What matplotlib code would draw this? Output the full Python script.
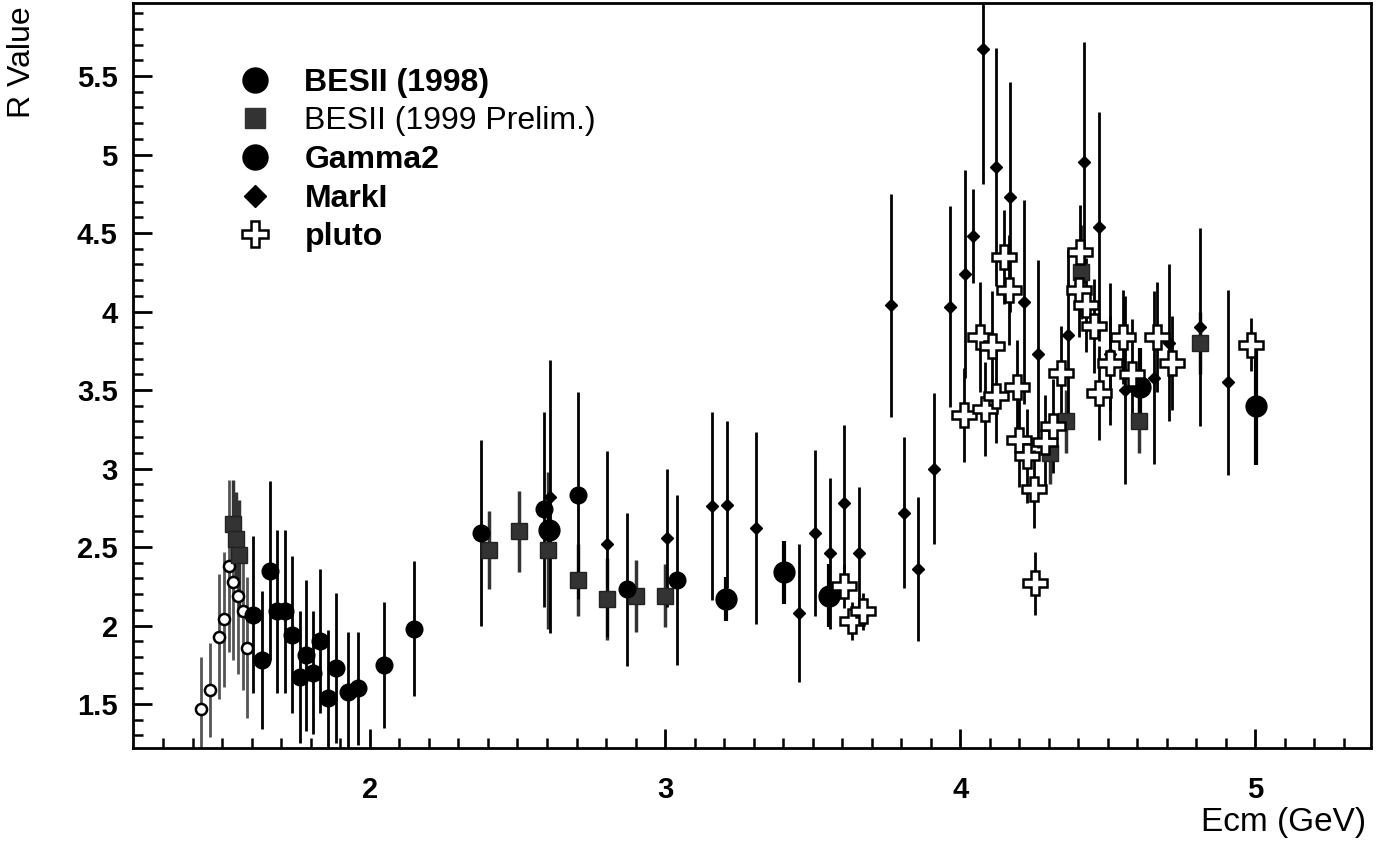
import numpy as np
import matplotlib
matplotlib.use('Agg')
import matplotlib.pyplot as plt
from matplotlib.lines import Line2D

plt.rcParams['font.family'] = ['Liberation Sans', 'DejaVu Sans']

# BESII (1998) - filled circles
bes98_x = [1.604, 1.635, 1.661, 1.684, 1.712, 1.735, 1.763, 1.785, 1.808, 1.83, 1.859, 1.885,
           1.926, 1.96, 2.049, 2.150, 2.375, 2.59, 2.706, 2.87, 3.04]
bes98_y = [2.07, 1.78, 2.35, 2.09, 2.09, 1.94, 1.67, 1.81, 1.70, 1.90, 1.54, 1.73,
           1.58, 1.60, 1.75, 1.98, 2.59, 2.74, 2.83, 2.23, 2.29]
bes98_e = [0.50, 0.44, 0.57, 0.52, 0.52, 0.50, 0.42, 0.48, 0.39, 0.46, 0.43, 0.48,
           0.38, 0.36, 0.40, 0.43, 0.59, 0.62, 0.66, 0.49, 0.54]

# BESII (1999 Prelim.) - squares
bes99_x = [1.535, 1.545, 1.555, 2.405, 2.505, 2.602, 2.706, 2.802, 2.90, 3.0,
           4.305, 4.36, 4.41, 4.605, 4.811]
bes99_y = [2.65, 2.55, 2.45, 2.48, 2.60, 2.48, 2.29, 2.17, 2.19, 2.19,
           3.10, 3.30, 4.25, 3.30, 3.80]
bes99_e = [0.28, 0.30, 0.35, 0.25, 0.26, 0.50, 0.23, 0.26, 0.23, 0.20,
           0.20, 0.20, 0.30, 0.20, 0.20]

# Gamma2 - large filled circles
gam_x = [2.606, 3.206, 3.404, 3.556, 4.61, 5.003]
gam_y = [2.61, 2.17, 2.34, 2.19, 3.52, 3.40]
gam_e = [0.15, 0.14, 0.20, 0.20, 0.25, 0.38]

# MarkI - small diamonds
mk_x = [2.61, 2.804, 3.006, 3.158, 3.209, 3.308, 3.455, 3.508, 3.559, 3.608, 3.658,
        3.765, 3.808, 3.857, 3.912, 3.966, 4.017, 4.045, 4.076, 4.122, 4.169, 4.215,
        4.263, 4.365, 4.418, 4.469, 4.508, 4.559, 4.658, 4.706, 4.811, 4.906]
mk_y = [2.82, 2.52, 2.56, 2.76, 2.77, 2.62, 2.08, 2.59, 2.46, 2.78, 2.46,
        4.04, 2.72, 2.36, 3.00, 4.03, 4.24, 4.48, 5.67, 4.92, 4.73, 4.06,
        3.73, 3.85, 4.95, 4.54, 3.73, 3.50, 3.58, 3.80, 3.90, 3.55]
mk_e = [0.87, 0.59, 0.44, 0.60, 0.53, 0.61, 0.44, 0.53, 0.48, 0.50, 0.42,
        0.71, 0.48, 0.46, 0.48, 0.64, 0.66, 0.30, 0.86, 0.76, 0.73, 0.65,
        0.60, 0.55, 0.77, 0.73, 0.45, 0.60, 0.55, 0.50, 0.63, 0.59]

# pluto - open crosses
pl_x = [3.605, 3.633, 3.67, 4.014, 4.068, 4.085, 4.107, 4.122, 4.149, 4.167, 4.192,
        4.198, 4.228, 4.249, 4.254, 4.288, 4.314, 4.343, 4.401, 4.407, 4.427, 4.455,
        4.471, 4.508, 4.553, 4.582, 4.667, 4.718, 4.985]
pl_y = [2.25, 2.03, 2.09, 3.34, 3.84, 3.38, 3.78, 3.46, 4.35, 4.14, 3.52,
        3.18, 3.08, 2.87, 2.27, 3.17, 3.27, 3.61, 4.14, 4.38, 4.04, 3.91,
        3.48, 3.67, 3.84, 3.60, 3.84, 3.67, 3.79]
pl_e = [0.14, 0.12, 0.12, 0.30, 0.35, 0.30, 0.35, 0.30, 0.30, 0.35, 0.30,
        0.30, 0.30, 0.25, 0.20, 0.30, 0.30, 0.30, 0.30, 0.30, 0.30, 0.30,
        0.30, 0.30, 0.30, 0.35, 0.35, 0.30, 0.17]

# small open circles at low energy (not in legend)
oc_x = [1.429, 1.458, 1.488, 1.505, 1.522, 1.537, 1.552, 1.571, 1.584]
oc_y = [1.47, 1.59, 1.93, 2.04, 2.38, 2.28, 2.19, 2.09, 1.86]
oc_e = [0.33, 0.30, 0.40, 0.43, 0.55, 0.50, 0.50, 0.50, 0.45]

fig = plt.figure(figsize=(13.79, 8.44), dpi=100)
ax = fig.add_axes([0.0964, 0.1137, 0.898, 0.8827])

eb = dict(fmt='none', ecolor='black', elinewidth=2.0, capsize=0)
ax.errorbar(oc_x, oc_y, yerr=oc_e, fmt='none', ecolor='#555555', elinewidth=2.0, capsize=0)
ax.errorbar(bes99_x, bes99_y, yerr=bes99_e, fmt='none', ecolor='#333333', elinewidth=2.5, capsize=0)
ax.errorbar(bes98_x, bes98_y, yerr=bes98_e, **eb)
ax.errorbar(gam_x, gam_y, yerr=gam_e, fmt='none', ecolor='black', elinewidth=3, capsize=0)
ax.errorbar(mk_x, mk_y, yerr=mk_e, **eb)
ax.errorbar(pl_x, pl_y, yerr=pl_e, **eb)

ax.plot(oc_x, oc_y, 'o', ms=8, mfc='white', mec='black', mew=1.8, ls='none')
ax.plot(bes99_x, bes99_y, 's', ms=11, mfc='#333333', mec='#222222', ls='none')
ax.plot(bes98_x, bes98_y, 'o', ms=12, mfc='black', mec='black', ls='none')
ax.plot(gam_x, gam_y, 'o', ms=15, mfc='black', mec='black', ls='none')
ax.plot(mk_x, mk_y, 'D', ms=6, mfc='black', mec='black', ls='none')
ax.plot(pl_x, pl_y, 'P', ms=17, mfc='white', mec='black', mew=1.8, ls='none')

ax.set_xlim(1.197, 5.393)
ax.set_ylim(1.22, 5.965)
ax.set_xticks([2, 3, 4, 5])
ax.set_xticks(np.arange(1.3, 5.35, 0.1), minor=True)
ax.set_yticks([1.5, 2, 2.5, 3, 3.5, 4, 4.5, 5, 5.5])
ax.set_yticklabels(['1.5', '2', '2.5', '3', '3.5', '4', '4.5', '5', '5.5'])
ax.set_yticks(np.arange(1.3, 5.95, 0.1), minor=True)
ax.tick_params(axis='both', which='major', direction='in', length=14, width=2,
               labelsize=21)
ax.tick_params(axis='both', which='minor', direction='in', length=7, width=1.8)
ax.tick_params(axis='x', which='major', pad=20)
ax.tick_params(axis='y', which='major', pad=11)
for lab in ax.get_xticklabels() + ax.get_yticklabels():
    lab.set_fontweight('bold')
for s in ax.spines.values():
    s.set_linewidth(2)

handles = [
    Line2D([], [], marker='o', ls='none', ms=18, mfc='black', mec='black'),
    Line2D([], [], marker='s', ls='none', ms=15, mfc='#333333', mec='#333333'),
    Line2D([], [], marker='o', ls='none', ms=18, mfc='black', mec='black'),
    Line2D([], [], marker='D', ls='none', ms=11, mfc='black', mec='black'),
    Line2D([], [], marker='P', ls='none', ms=19, mfc='white', mec='black', mew=1.8),
]
labels = ['BESII (1998)', 'BESII (1999 Prelim.)', 'Gamma2', 'MarkI', 'pluto']
leg = ax.legend(handles, labels, loc='upper left', bbox_to_anchor=(0.083, 0.913),
                frameon=False, fontsize=23, handletextpad=0.95, labelspacing=0.27,
                handlelength=1.2, borderpad=0, borderaxespad=0)
for i, t in enumerate(leg.get_texts()):
    if i != 1:
        t.set_fontweight('bold')

fig.text(22 / 1379, 1 - 118 / 844, 'R Value', rotation=90, ha='center', va='bottom',
         fontsize=23)
fig.text(1366 / 1379, 1 - 822 / 844, 'Ecm (GeV)', ha='right', va='center', fontsize=24)

fig.savefig('out.png', dpi=100)
